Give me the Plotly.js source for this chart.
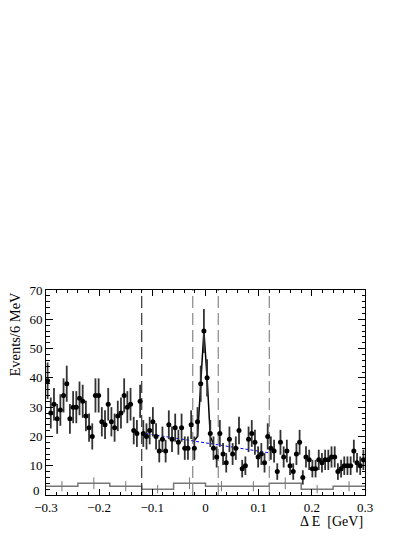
<!DOCTYPE html>
<html>
<head>
<meta charset="utf-8">
<script src="https://cdn.plot.ly/plotly-3.0.1.min.js"></script>
<style>html,body{margin:0;padding:0;background:#fff;}#chart{width:415px;height:537px;}</style>
</head>
<body>
<div id="chart"></div>
<script>
// Binning of the data histogram (6 MeV bins from -0.3 to 0.3 GeV)
const binLo = -0.3;
const binW = 0.006;
// Events per bin
const counts = [
  39,28,31,26,29,34,38,26,30,30,33,32,27,23,20,34,34,25,24,31,25,23,27,28,34,30,31,22,21,32,21,
  20,22,25,20,15,19,15,24,19,23,18,23,16,16,24,16,25,38,56,40,
  21,16,13,21,14,11,19,14,16,22,9,10,19,21,18,13,14,11,20,
  16,15,8,18,13,15,10,8,14,18,6,13,12,9,9,12,11,12,12,13,13,8,9,10,10,10,15,11,10,12
];
// Fit curve (signal + background) in the signal region
const fitX = [-0.021, -0.015, -0.009, -0.003, 0.003, 0.009, 0.015];
const fitY = [18.6, 20.0, 38.0, 56.0, 40.0, 20.0, 17.4];
// Background component (linear)
const bkgX = [-0.12, 0.12];
const bkgY = [21.2, 14.4];
// Region boundaries (vertical dashed lines)
const cutX = [-0.12, -0.024, 0.024, 0.12];
const cutColor = ['#333333', '#888888', '#888888', '#888888'];
// Lower gray histogram (wide bins)
const histEdges = [-0.3,-0.24,-0.18,-0.12,-0.06,0,0.06,0.12,0.18,0.24,0.3];
const histVals = [3,4,3,2,4,3,3,4,2,3];

const xTickVals = [-0.3,-0.2,-0.1,0,0.1,0.2,0.3];
const xTickText = ['\u22120.3','\u22120.2','\u22120.1','0','0.1','0.2','0.3'];
const yTickVals = [10,20,30,40,50,60,70];
const yTickText = ['10','20','30','40','50','60','70'];

const centers = counts.map((_, i) => binLo + binW * (i + 0.5));
const traces = [];

// gray step histogram
traces.push({
  x: histEdges,
  y: histVals.concat([histVals[histVals.length - 1]]),
  mode: 'lines', line: {shape: 'hv', color: '#777777', width: 1.5},
  hoverinfo: 'skip', showlegend: false
});
traces.push({
  x: histVals.map((_, i) => (histEdges[i] + histEdges[i + 1]) / 2),
  y: histVals,
  mode: 'markers', marker: {size: 0.1, color: 'rgba(0,0,0,0)'},
  error_y: {type: 'sqrt', color: '#777777', thickness: 1, width: 0},
  hoverinfo: 'skip', showlegend: false
});

// vertical dashed lines
cutX.forEach((v, i) => {
  traces.push({
    x: [v, v], y: [0, 70], mode: 'lines',
    line: {color: cutColor[i], width: 1.2, dash: '12px,5px'},
    hoverinfo: 'skip', showlegend: false
  });
});

// background line
traces.push({
  x: bkgX, y: bkgY, mode: 'lines',
  line: {color: '#0000ff', width: 1, dash: '3px,2px'},
  showlegend: false
});

// fit curve
traces.push({
  x: fitX, y: fitY, mode: 'lines',
  line: {color: '#000000', width: 1.5},
  showlegend: false
});

// data points
traces.push({
  x: centers, y: counts, mode: 'markers',
  marker: {color: '#000000', size: 5},
  error_y: {type: 'sqrt', color: '#333333', thickness: 1.8, width: 0},
  showlegend: false
});

const fontFam = "'Liberation Serif'";
const layout = {
  width: 415, height: 537,
  margin: {l: 46, r: 50, t: 290, b: 42},
  paper_bgcolor: '#ffffff', plot_bgcolor: '#ffffff',
  font: {family: fontFam, color: '#000', size: 13},
  xaxis: {
    range: [-0.3, 0.3], tickmode: 'array', tickvals: xTickVals, ticktext: xTickText,
    ticks: 'inside', ticklen: 6, tickcolor: '#000', tickwidth: 1,
    minor: {dtick: 0.02, tick0: 0, ticks: 'inside', ticklen: 3, tickcolor: '#000'},
    showline: true, linecolor: '#000', linewidth: 1, mirror: 'allticks',
    showgrid: false, zeroline: false,
    tickfont: {family: fontFam, size: 13, color: '#000'}
  },
  yaxis: {
    range: [0, 70], tickmode: 'array', tickvals: yTickVals, ticktext: yTickText,
    ticks: 'inside', ticklen: 7, tickcolor: '#000', tickwidth: 1,
    minor: {dtick: 2, tick0: 0, ticks: 'inside', ticklen: 3.5, tickcolor: '#000'},
    showline: true, linecolor: '#000', linewidth: 1, mirror: 'allticks',
    showgrid: false, zeroline: false,
    tickfont: {family: fontFam, size: 13, color: '#000'}
  },
  annotations: [
    {text: '0', xref: 'paper', yref: 'y', x: -0.012, y: 1.5,
     xanchor: 'right', yanchor: 'middle', showarrow: false,
     font: {family: fontFam, size: 13, color: '#000'}},
    {text: 'Events/6 MeV', xref: 'paper', yref: 'paper', x: -0.1, y: 1,
     xanchor: 'center', yanchor: 'top', textangle: -90, showarrow: false,
     font: {family: fontFam, size: 14.5, color: '#000'}},
    {text: '\u0394 E  [GeV]', xref: 'paper', yref: 'paper', x: 1, y: -0.127,
     xanchor: 'right', yanchor: 'middle', showarrow: false,
     font: {family: fontFam, size: 14, color: '#000'}}
  ]
};

Plotly.newPlot('chart', traces, layout, {displayModeBar: false, staticPlot: true});
</script>
</body>
</html>
